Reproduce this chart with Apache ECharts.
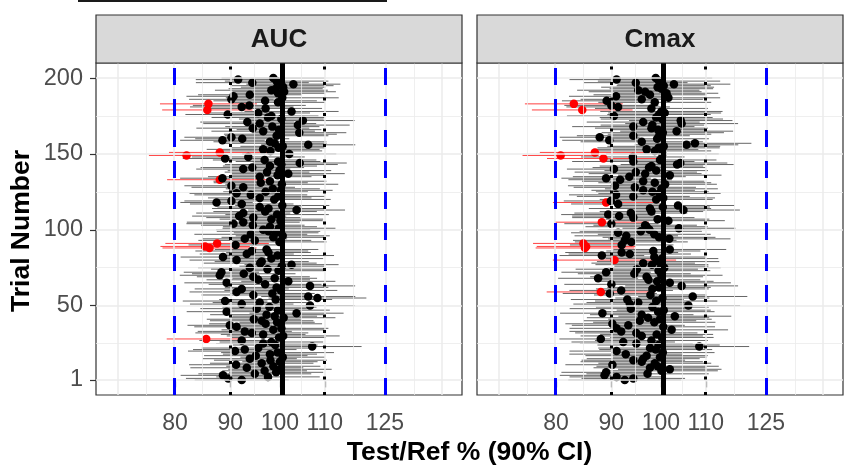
<!DOCTYPE html>
<html>
<head>
<meta charset="utf-8">
<script src="https://cdn.jsdelivr.net/npm/echarts@6/dist/echarts.min.js"></script>
<style>
  html, body { margin: 0; padding: 0; background: #fff; }
  #chart { width: 846px; height: 470px; }
</style>
</head>
<body>
<div id="chart"></div>
<script>
// point estimates (Test/Ref %), trial 1..200
const aucPE = [92.2,89.6,97.5,88.6,94.8,99.2,96.8,100.0,93.2,98.6,
91.1,96.2,100.0,98.0,93.8,100.6,95.0,97.9,99.5,90.9,
92.8,95.5,107.1,99.0,96.5,98.2,92.2,85.5,99.8,100.7,
96.5,94.2,92.8,98.6,100.3,91.2,89.9,97.0,99.4,96.2,
94.6,100.8,98.9,97.2,103.6,89.3,99.6,95.2,97.8,106.6,
92.2,95.8,89.0,99.1,108.3,106.2,94.5,98.4,91.2,100.2,
92.2,99.3,106.6,96.9,89.3,101.8,95.5,98.9,94.5,88.0,
92.6,88.3,99.7,97.4,93.8,100.4,102.5,95.9,96.2,91.2,
98.2,88.6,99.5,93.2,97.6,94.2,97.2,86.1,85.3,91.0,
87.5,99.9,94.8,92.8,98.6,100.6,94.0,99.2,97.6,96.5,
99.8,97.9,94.4,90.6,92.5,100.1,98.2,94.5,91.7,99.4,
92.5,96.9,103.6,97.6,95.8,100.5,92.2,87.4,90.2,98.8,
95.8,99.6,94.0,91.2,97.0,100.2,98.5,92.5,90.2,100.4,
96.0,97.9,88.0,88.5,95.8,99.5,101.8,97.3,99.9,92.5,
94.3,97.9,100.3,104.3,99.6,96.8,89.0,93.5,82.0,102.0,
88.0,98.0,96.5,99.7,100.6,106.2,98.9,97.9,88.5,92.3,
90.2,99.3,100.1,104.2,96.5,99.8,94.4,98.4,103.9,95.8,
93.3,105.0,100.3,97.5,98.2,89.5,95.5,102.5,85.7,97.0,
92.2,93.7,85.9,99.6,96.9,90.2,100.5,90.6,93.8,99.6,
100.9,98.2,99.1,100.7,100.4,102.9,94.3,99.3,91.5,98.6];

// half width of the 90% CI on the log scale
const aucHalf = [.10,.09,.11,.09,.12,.10,.09,.11,.12,.10,
.10,.11,.08,.12,.10,.09,.11,.10,.12,.10,
.11,.12,.105,.09,.10,.11,.09,.084,.10,.12,
.09,.12,.10,.11,.10,.09,.09,.12,.08,.11,
.10,.11,.09,.12,.10,.085,.11,.12,.10,.095,
.11,.10,.09,.12,.104,.10,.11,.09,.10,.12,
.10,.11,.096,.12,.09,.10,.11,.09,.12,.085,
.11,.08,.10,.12,.11,.09,.10,.12,.10,.10,
.11,.09,.12,.10,.09,.12,.11,.10,.095,.10,
.11,.10,.12,.09,.11,.10,.12,.09,.11,.10,
.12,.10,.11,.10,.12,.09,.11,.10,.10,.11,
.10,.11,.103,.12,.09,.10,.11,.077,.10,.12,
.11,.10,.12,.10,.09,.11,.10,.11,.10,.12,
.10,.12,.112,.09,.11,.10,.12,.09,.11,.10,
.11,.10,.12,.10,.09,.11,.09,.12,.08,.10,
.108,.11,.12,.10,.09,.10,.11,.12,.09,.10,
.10,.11,.12,.10,.11,.09,.12,.10,.11,.12,
.10,.11,.09,.12,.10,.09,.11,.10,.096,.12,
.11,.12,.103,.10,.11,.09,.12,.10,.11,.10,
.11,.12,.10,.09,.11,.10,.12,.11,.09,.11];

const cmaxPE = [92.6,94.3,91.0,88.7,97.2,89.0,100.1,101.9,97.7,99.3,
90.2,98.7,96.0,94.3,96.3,99.8,97.0,92.8,100.4,91.0,
98.9,97.7,108.5,99.5,94.9,92.3,98.0,88.0,100.2,96.0,
99.1,94.9,91.9,102.3,91.0,100.5,93.3,90.2,98.6,95.6,
99.8,97.3,103.0,96.0,88.3,99.4,100.6,93.8,98.2,106.0,
93.6,95.3,99.0,93.1,100.3,107.0,97.8,89.7,88.0,91.9,
98.2,99.6,104.5,90.0,101.9,99.2,97.4,87.5,97.0,100.1,
94.5,89.0,99.5,95.0,100.7,100.1,98.1,96.3,99.4,90.6,
100.2,98.6,88.2,93.6,92.0,98.4,101.9,85.1,85.3,92.0,
84.8,93.9,92.6,101.8,99.6,92.9,98.6,91.3,95.8,97.6,
103.9,97.0,96.7,90.0,88.2,101.6,99.3,94.3,91.5,89.4,
93.8,98.0,104.9,97.7,100.4,103.7,91.3,89.0,89.9,99.0,
100.5,94.3,90.9,99.7,98.2,96.3,100.1,94.6,90.7,100.9,
98.7,96.3,91.7,89.0,93.5,101.9,96.7,94.8,99.0,90.5,
97.5,98.0,103.5,104.2,94.3,99.8,88.5,94.2,80.8,100.3,
86.9,98.7,97.0,99.5,100.6,105.6,107.5,96.0,89.6,99.2,
87.8,94.3,99.7,100.4,103.4,99.4,98.0,94.3,98.2,104.5,
96.3,104.3,100.2,99.0,90.5,99.6,100.8,100.1,84.6,98.0,
91.3,90.0,83.1,98.7,89.1,96.0,101.6,90.9,97.7,101.2,
96.7,95.3,100.1,99.3,100.6,102.8,94.8,99.6,91.0,98.9];

const cmaxHalf = [.12,.11,.10,.095,.13,.095,.12,.11,.12,.13,
.10,.12,.13,.11,.12,.10,.13,.12,.11,.10,
.12,.11,.106,.13,.12,.11,.12,.088,.11,.13,
.12,.13,.11,.12,.10,.11,.12,.10,.13,.12,
.11,.13,.12,.11,.09,.12,.10,.13,.12,.11,
.12,.11,.13,.12,.10,.116,.12,.10,.115,.11,
.12,.11,.12,.10,.13,.12,.11,.085,.12,.13,
.12,.095,.11,.13,.12,.10,.12,.11,.13,.131,
.12,.11,.09,.13,.12,.10,.12,.105,.105,.11,
.107,.12,.11,.13,.12,.11,.12,.10,.13,.11,
.12,.13,.11,.10,.10,.12,.11,.13,.10,.10,
.12,.11,.12,.13,.10,.12,.10,.113,.10,.12,
.11,.12,.10,.13,.12,.11,.12,.13,.10,.11,
.12,.13,.11,.095,.12,.11,.12,.13,.11,.10,
.12,.11,.12,.10,.13,.12,.12,.11,.081,.12,
.117,.12,.11,.13,.12,.11,.12,.13,.10,.11,
.085,.12,.11,.13,.12,.10,.12,.13,.11,.12,
.12,.11,.13,.12,.10,.11,.12,.13,.107,.12,
.11,.10,.104,.12,.095,.13,.11,.10,.12,.11,
.12,.13,.11,.12,.10,.12,.11,.13,.10,.12];

const xTicks = [80, 90, 100, 110, 125];
const xBreaks = [71.1, 80, 90, 100, 110, 125, 140.6];
const yTicks = [1, 50, 100, 150, 200];
const beLimits = [80, 125];
const refDotted = [90, 110];
const facets = ['AUC', 'Cmax'];

const LN = Math.log;
const xMin = LN(67.64), xMax = LN(147.26);
const yMin = -8.95, yMax = 209.95;
const TOP = 63, H = 332, W = 366;
const lefts = [96, 477];
const FONT = 'Liberation Sans, Arial, sans-serif';

// minor grid at midpoints (transformed scale)
function mids(arr) {
  const out = [];
  for (let i = 0; i < arr.length - 1; i++) out.push((arr[i] + arr[i + 1]) / 2);
  return out;
}
const xMajorLn = xBreaks.map(LN);
const xMinorLn = mids(xMajorLn);
const yMinor = mids(yTicks);

const chart = echarts.init(document.getElementById('chart'), null, { renderer: 'canvas' });

const grids = [], xAxes = [], yAxes = [], series = [], graphics = [];

[[aucPE, aucHalf], [cmaxPE, cmaxHalf]].forEach(([pe, half], k) => {
  grids.push({ left: lefts[k], top: TOP, width: W, height: H, show: true,
    backgroundColor: '#fff', borderColor: '#333333', borderWidth: 1.2 });

  xAxes.push({
    gridIndex: k, type: 'value', min: xMin, max: xMax,
    axisLine: { show: false }, splitLine: { show: false },
    axisTick: { show: true, customValues: xTicks.map(LN), length: 6, lineStyle: { color: '#333', width: 1.2 } },
    axisLabel: { customValues: xTicks.map(LN), formatter: v => String(Math.round(Math.exp(v))),
      color: '#4D4D4D', fontSize: 23, fontFamily: FONT, margin: 17 }
  });
  yAxes.push({
    gridIndex: k, type: 'value', min: yMin, max: yMax,
    axisLine: { show: false }, splitLine: { show: false },
    axisTick: { show: k === 0, customValues: yTicks, length: 6, lineStyle: { color: '#333', width: 1.2 } },
    axisLabel: { show: k === 0, customValues: yTicks, color: '#4D4D4D', fontSize: 23.5, fontFamily: FONT, margin: 13 }
  });

  // background grid lines
  const gl = [];
  xMajorLn.forEach(v => gl.push({ xAxis: v, lineStyle: { color: '#EBEBEB', width: 1.5, type: 'solid' } }));
  xMinorLn.forEach(v => gl.push({ xAxis: v, lineStyle: { color: '#EBEBEB', width: 0.8, type: 'solid' } }));
  yTicks.forEach(v => gl.push({ yAxis: v, lineStyle: { color: '#EBEBEB', width: 1.5, type: 'solid' } }));
  yMinor.forEach(v => gl.push({ yAxis: v, lineStyle: { color: '#EBEBEB', width: 0.8, type: 'solid' } }));
  series.push({
    type: 'line', xAxisIndex: k, yAxisIndex: k, data: [], z: 1, silent: true,
    markLine: { silent: true, symbol: ['none', 'none'], label: { show: false }, animation: false, data: gl }
  });

  // confidence intervals
  const ci = pe.map((p, i) => {
    const lo = LN(p) - half[i], hi = LN(p) + half[i];
    const out = (lo < LN(beLimits[0]) || hi > LN(beLimits[1])) ? 1 : 0;
    return [lo, hi, i + 1, out];
  });
  series.push({
    type: 'custom', xAxisIndex: k, yAxisIndex: k, z: 2, silent: true, clip: true,
    encode: { x: [0, 1], y: 2 },
    data: ci,
    renderItem: (params, api) => {
      const a = api.coord([api.value(0), api.value(2)]);
      const b = api.coord([api.value(1), api.value(2)]);
      const red = api.value(3) === 1;
      return { type: 'line', shape: { x1: a[0], y1: a[1], x2: b[0], y2: b[1] },
        style: { stroke: red ? 'rgba(255,0,0,0.75)' : 'rgba(0,0,0,0.6)', lineWidth: 1 } };
    }
  });

  // reference lines
  const refs = [];
  beLimits.forEach(v => refs.push({ xAxis: LN(v), lineStyle: { color: '#0000FF', width: 3, type: [17, 14], cap: 'butt' } }));
  refDotted.forEach(v => refs.push({ xAxis: LN(v), lineStyle: { color: '#000', width: 3, type: [3, 12.5], cap: 'butt' } }));
  refs.push({ xAxis: LN(100), lineStyle: { color: '#000', width: 5, type: 'solid' } });
  series.push({
    type: 'line', xAxisIndex: k, yAxisIndex: k, data: [], z: 3, silent: true,
    markLine: { silent: true, symbol: ['none', 'none'], label: { show: false }, animation: false, data: refs }
  });

  // point estimates
  series.push({
    type: 'scatter', xAxisIndex: k, yAxisIndex: k, z: 4, silent: true,
    symbolSize: 8.5,
    data: ci.map((c, i) => [LN(pe[i]), i + 1, c[3]]),
    itemStyle: { opacity: 1, color: p => p.value[2] === 1 ? '#FF0000' : '#000000' }
  });

  // facet strip
  graphics.push({ type: 'rect', shape: { x: lefts[k], y: 15, width: W, height: 48 },
    style: { fill: '#D9D9D9', stroke: '#333333', lineWidth: 1.2 }, z: 10 });
  graphics.push({ type: 'text', x: lefts[k] + W / 2, y: 40,
    style: { text: facets[k], font: 'bold 26px ' + FONT, fill: '#1A1A1A', textAlign: 'center', textVerticalAlign: 'middle' }, z: 11 });
});

graphics.push({ type: 'rect', shape: { x: 78, y: 0, width: 309, height: 2 }, style: { fill: '#1A1A1A' } });
graphics.push({ type: 'text', x: (lefts[0] + lefts[1] + W) / 2, y: 453,
  style: { text: 'Test/Ref % (90% CI)', font: 'bold 26.5px ' + FONT, fill: '#000', textAlign: 'center', textVerticalAlign: 'middle' } });
graphics.push({ type: 'text', x: 22, y: 231, rotation: Math.PI / 2,
  style: { text: 'Trial Number', font: 'bold 26.5px ' + FONT, fill: '#000', textAlign: 'center', textVerticalAlign: 'middle' } });

chart.setOption({
  animation: false,
  grid: grids,
  xAxis: xAxes,
  yAxis: yAxes,
  series: series,
  graphic: graphics
});
</script>
</body>
</html>
